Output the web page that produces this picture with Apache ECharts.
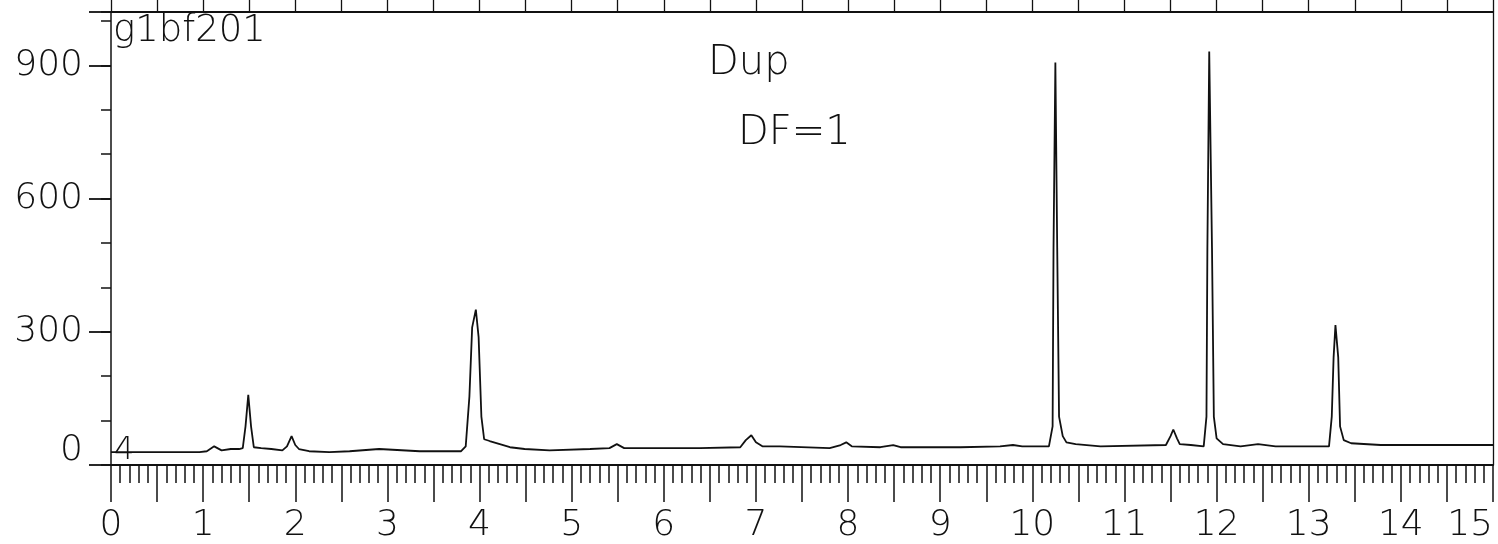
<!DOCTYPE html>
<html>
<head>
<meta charset="utf-8">
<script src="https://cdn.jsdelivr.net/npm/echarts@6/dist/echarts.min.js"></script>
<style>
  html, body { margin: 0; padding: 0; background: #fff; }
  #chart { width: 1498px; height: 544px; }
</style>
</head>
<body>
<div id="chart"></div>
<script>
// retention time (min) and detector response
var times = [
  0, 0.96, 1.04, 1.12, 1.20, 1.30, 1.39, 1.43, 1.46, 1.49, 1.52, 1.55, 1.63, 1.74, 1.86,
  1.91, 1.96, 2.00, 2.04, 2.15, 2.37, 2.59, 2.91, 3.35, 3.80, 3.85, 3.89, 3.92, 3.96,
  3.99, 4.02, 4.05, 4.11, 4.22, 4.33, 4.49, 4.76, 5.20, 5.41, 5.49, 5.57, 6.39, 6.83,
  6.89, 6.95, 7.00, 7.07, 7.26, 7.80, 7.92, 7.98, 8.04, 8.35, 8.49, 8.57, 9.22, 9.65,
  9.79, 9.89, 10.18, 10.22, 10.23, 10.25, 10.27, 10.29, 10.33, 10.37, 10.47, 10.74,
  11.45, 11.50, 11.53, 11.57, 11.60, 11.72, 11.86, 11.89, 11.90, 11.92, 11.95, 11.97,
  12.00, 12.07, 12.26, 12.45, 12.64, 13.22, 13.25, 13.27, 13.29, 13.32, 13.34, 13.38,
  13.46, 13.78, 15.0
]
var response = [
  29, 29, 31, 42, 33, 36, 36, 38, 87, 158, 87, 40, 38, 36, 33,
  42, 65, 45, 36, 31, 29, 31, 36, 31, 31, 42, 154, 310, 350,
  288, 109, 58, 54, 47, 40, 36, 33, 36, 38, 47, 38, 38, 40,
  56, 67, 51, 42, 42, 38, 45, 51, 42, 40, 45, 40, 40, 42,
  45, 42, 42, 87, 489, 906, 489, 109, 65, 51, 47, 42,
  45, 65, 80, 60, 47, 45, 42, 109, 489, 931, 489, 109,
  60, 47, 42, 47, 42, 42, 109, 243, 315, 243, 87, 56,
  49, 45, 45
]
var yTickLabels = [0, 300, 600, 900]
var sampleName = 'g1bf201'
var notes = ['Dup', 'DF=1']

var font = 'DejaVu Sans'
var ink = '#111'

var chart = echarts.init(document.getElementById('chart'))
chart.setOption({
  animation: false,
  backgroundColor: '#fff',
  grid: { left: 111, right: 5, top: 12, bottom: 75 },
  xAxis: [
    {
      type: 'value', min: 0, max: 15, interval: 0.5, position: 'bottom',
      axisLine: { show: true, onZero: false, lineStyle: { color: ink, width: 1.8 } },
      axisTick: { show: true, length: 37, lineStyle: { color: ink, width: 1.5 } },
      axisLabel: {
        margin: 43, color: ink, fontFamily: font, fontSize: 36, fontWeight: 200,
        alignMaxLabel: 'right',
        formatter: function (v) { return Math.abs(v - Math.round(v)) < 1e-6 ? String(Math.round(v)) : '' }
      },
      splitLine: { show: false }
    },
    {
      type: 'value', min: 0, max: 15, interval: 0.1, position: 'bottom',
      axisLine: { show: false, onZero: false },
      axisTick: { show: true, length: 18, lineStyle: { color: ink, width: 1.5 } },
      axisLabel: { show: false },
      splitLine: { show: false }
    },
    {
      type: 'value', min: 0, max: 15, interval: 0.5, position: 'top',
      axisLine: { show: true, onZero: false, lineStyle: { color: ink, width: 1.8 } },
      axisTick: { show: true, length: 14, lineStyle: { color: ink, width: 1.3 } },
      axisLabel: { show: false },
      splitLine: { show: false }
    }
  ],
  yAxis: [
    {
      type: 'value', min: 0, max: 1020, interval: 300, position: 'left',
      axisLine: { show: true, onZero: false, lineStyle: { color: ink, width: 1.5 } },
      axisTick: { show: true, length: 22, lineStyle: { color: ink, width: 1.8 } },
      axisLabel: {
        margin: 28, color: ink, fontFamily: font, fontSize: 36, fontWeight: 200,
        formatter: function (v) {
          if (yTickLabels.indexOf(v) < 0) return ''
          return v === 0 ? '{z|0}' : String(v)
        },
        rich: { z: { fontFamily: font, fontSize: 36, fontWeight: 200, color: ink, padding: [0, 0, 28, 0] } }
      },
      splitLine: { show: false }
    },
    {
      type: 'value', min: 0, max: 1020, interval: 100, position: 'left',
      axisLine: { show: false, onZero: false },
      axisTick: { show: true, length: 10, lineStyle: { color: ink, width: 1.5 } },
      axisLabel: { show: false },
      splitLine: { show: false }
    },
    {
      type: 'value', min: 0, max: 1020, position: 'right',
      axisLine: { show: true, onZero: false, lineStyle: { color: ink, width: 1.3 } },
      axisTick: { show: false },
      axisLabel: { show: false },
      splitLine: { show: false }
    }
  ],
  series: [
    {
      type: 'line',
      data: times.map(function (t, i) { return [t, response[i]] }),
      showSymbol: false,
      lineStyle: { color: ink, width: 1.8 },
      silent: true
    }
  ],
  graphic: [
    { type: 'text', left: 113, top: 13, style: { text: sampleName, fontFamily: font, fontSize: 37, fontWeight: 200, fill: ink } },
    { type: 'text', left: 114, top: 435, style: { text: '4', fontFamily: font, fontSize: 32, fontWeight: 200, fill: ink } },
    { type: 'text', left: 708, top: 44, style: { text: notes[0], fontFamily: font, fontSize: 40, fontWeight: 200, fill: ink } },
    { type: 'text', left: 738, top: 114, style: { text: notes[1], fontFamily: font, fontSize: 40, fontWeight: 200, fill: ink } }
  ]
})
</script>
</body>
</html>
